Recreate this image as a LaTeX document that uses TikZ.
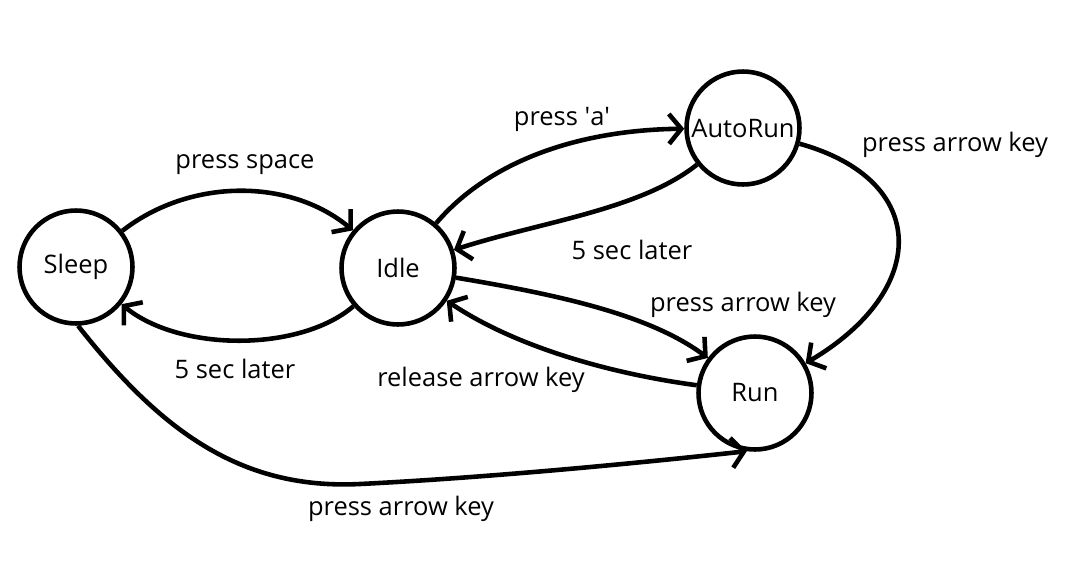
\documentclass[tikz,border=0pt]{standalone}
\usepackage{fontspec}
\setmainfont{Open Sans}
\usetikzlibrary{arrows.meta}

\begin{document}
\begin{tikzpicture}[x=0.02cm,y=-0.02cm,line width=2.6pt,
        >={Straight Barb[length=7pt,width=17pt]},
        state/.style={draw,circle,minimum size=2.26cm,inner sep=0pt,font=\fontsize{14.5}{17}\selectfont},
        lbl/.style={font=\fontsize{14.5}{17}\selectfont}]
        \useasboundingbox (0,0) rectangle (1086,572);
        \node[state] (sleep) at (76,267) {Sleep};
        \node[state] (idle) at (398,268) {Idle};
        \node[state] (auto) at (743,128) {AutoRun};
        \node[state] (run) at (755,393) {Run};
        \node[lbl] (l0) at (245,165) {press space};
        \node[lbl] (l1) at (235,369) {5 sec later};
        \node[lbl] (l2) at (562,119) {press \textquotesingle a\textquotesingle};
        \node[lbl] (l3) at (632,250) {5 sec later};
        \node[lbl] (l4) at (955,145) {press arrow key};
        \node[lbl] (l5) at (743,305) {press arrow key};
        \node[lbl] (l6) at (481,380) {release arrow key};
        \node[lbl] (l7) at (401,509) {press arrow key};
        \draw [->] (sleep) .. controls (190,178) and (290,178) .. (idle);
        \draw [->] (idle) .. controls (300,352) and (180,352) .. (sleep);
        \draw [->] (idle) .. controls (490,160) and (580,130) .. (auto);
        \draw [->] (auto) .. controls (640,210) and (540,222) .. (idle);
        \draw [->] (auto) .. controls (930,180) and (930,290) .. (run);
        \draw [->] (idle) .. controls (560,295) and (650,315) .. (run);
        \draw [->] (run) .. controls (620,375) and (520,350) .. (idle);
        \draw [->] (sleep.272) .. controls (160,430) and (240,490) .. (360,484)
                .. controls (480,478) and (620,465) .. (run.262);
\end{tikzpicture}
\end{document}
